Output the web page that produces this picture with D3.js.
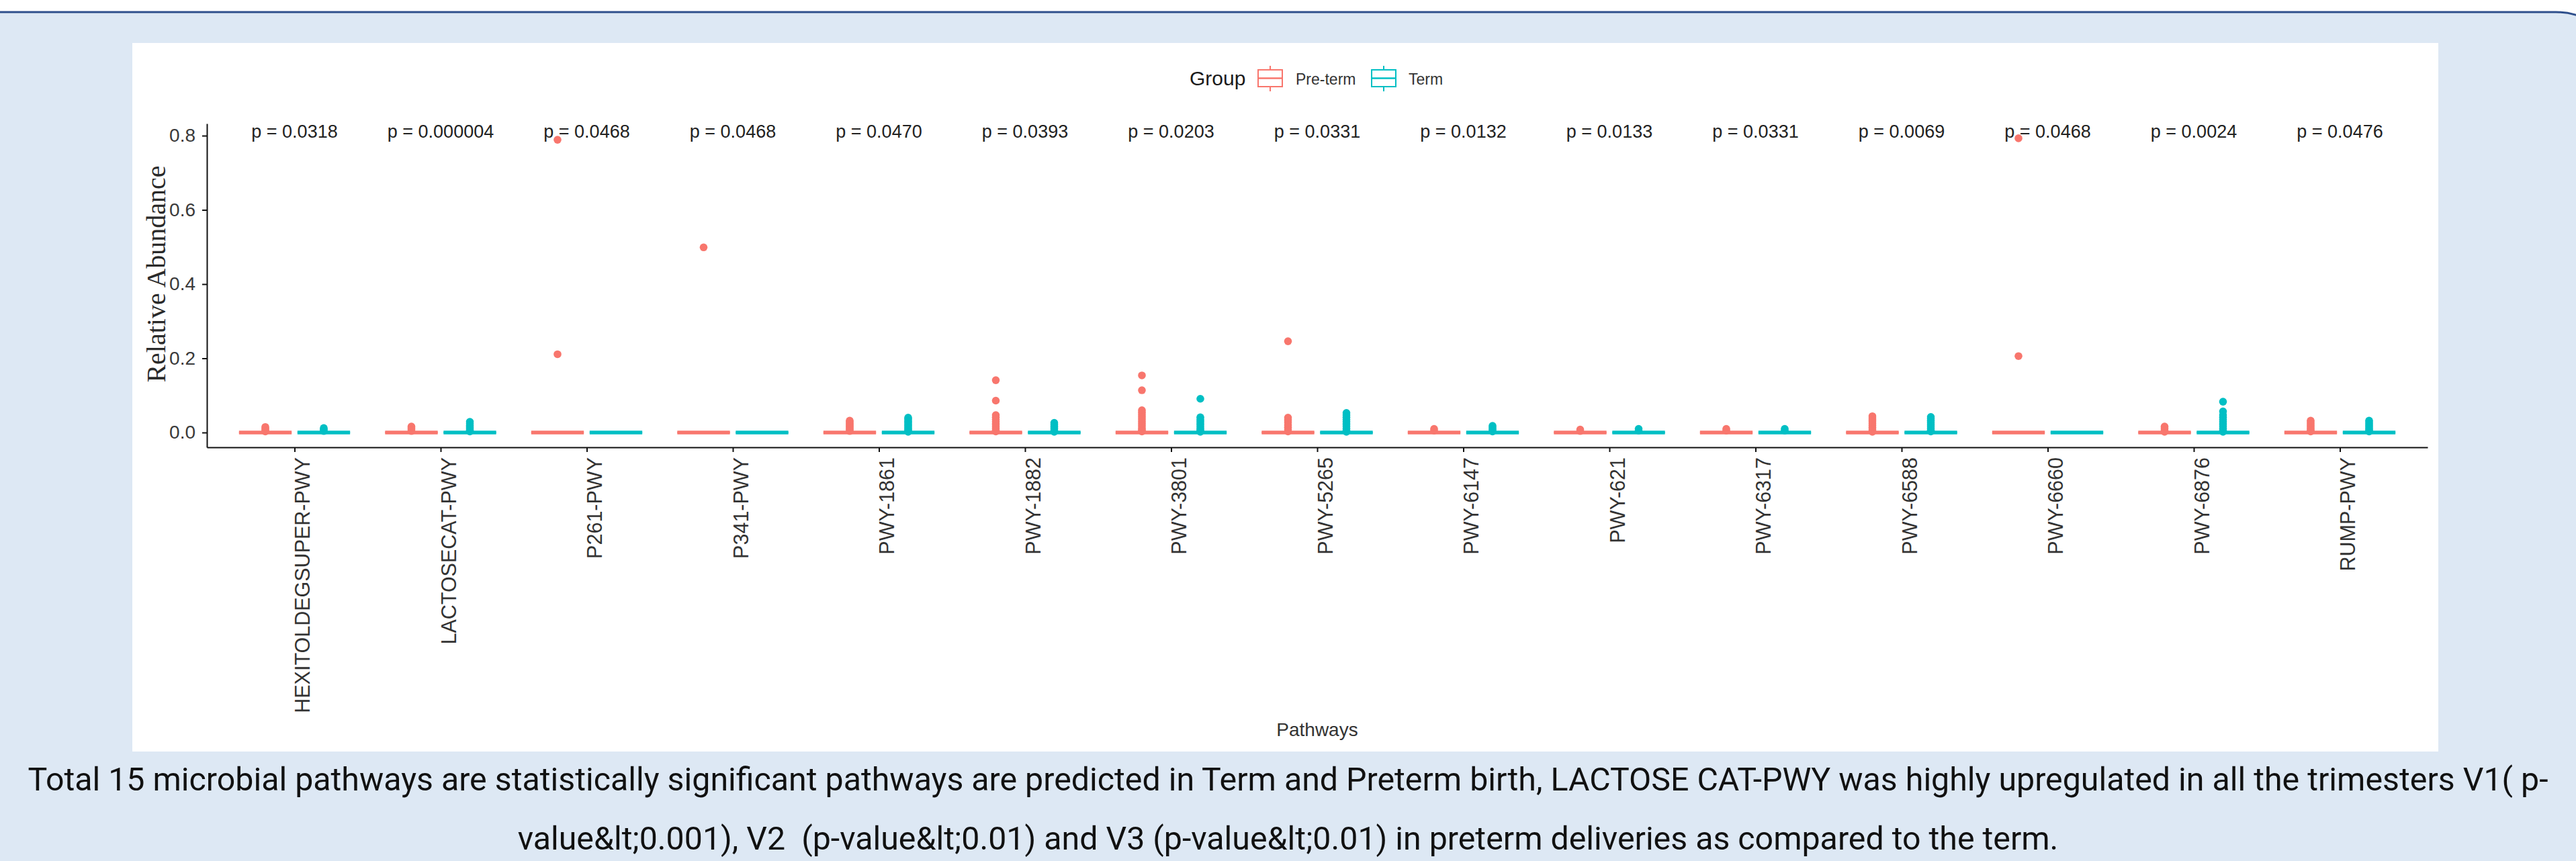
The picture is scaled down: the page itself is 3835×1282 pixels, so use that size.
<!DOCTYPE html>
<html>
<head>
<meta charset="utf-8">
<script src="https://cdn.jsdelivr.net/npm/d3@7"></script>
<style>
  html, body { margin: 0; padding: 0; background: #ffffff; }
  svg { display: block; font-family: "Liberation Sans", Arial, Helvetica, sans-serif; }
</style>
</head>
<body>
<svg id="fig" width="3835" height="1282"></svg>
<script>
// Pathways tested (x categories)
const pathways = [
  "HEXITOLDEGSUPER-PWY", "LACTOSECAT-PWY", "P261-PWY", "P341-PWY", "PWY-1861",
  "PWY-1882", "PWY-3801", "PWY-5265", "PWY-6147", "PWY-621",
  "PWY-6317", "PWY-6588", "PWY-6660", "PWY-6876", "RUMP-PWY"
];

// Wilcoxon p-values shown above each pathway
const pValues = [
  "0.0318", "0.000004", "0.0468", "0.0468", "0.0470",
  "0.0393", "0.0203", "0.0331", "0.0132", "0.0133",
  "0.0331", "0.0069", "0.0468", "0.0024", "0.0476"
];

const groups = ["Pre-term", "Term"];
const groupColors = ["#F8766D", "#00BFC4"];

// Box statistics [q1, median, q3] per pathway (abundances collapse to zero)
const preTermBox = [
  [0, 0, 0], [0, 0, 0], [0, 0, 0], [0, 0, 0], [0, 0, 0],
  [0, 0, 0], [0, 0, 0], [0, 0, 0], [0, 0, 0], [0, 0, 0],
  [0, 0, 0], [0, 0, 0], [0, 0, 0], [0, 0, 0], [0, 0, 0]
];
const termBox = [
  [0, 0, 0], [0, 0, 0], [0, 0, 0], [0, 0, 0], [0, 0, 0],
  [0, 0, 0], [0, 0, 0], [0, 0, 0], [0, 0, 0], [0, 0, 0],
  [0, 0, 0], [0, 0, 0], [0, 0, 0], [0, 0, 0], [0, 0, 0]
];

// Outlying samples per pathway
const preTermOutliers = [
  [0.015, 0.011, 0.007, 0.003],
  [0.016, 0.012, 0.008, 0.004],
  [0.789, 0.211],
  [0.499],
  [0.032, 0.028, 0.024, 0.020, 0.016, 0.012, 0.008, 0.004],
  [0.141, 0.086, 0.047, 0.041, 0.035, 0.029, 0.023, 0.017, 0.012, 0.007, 0.003],
  [0.154, 0.114, 0.060, 0.054, 0.048, 0.042, 0.036, 0.030, 0.024, 0.018, 0.012, 0.007, 0.003],
  [0.246, 0.040, 0.034, 0.028, 0.020, 0.014, 0.008, 0.003],
  [0.010, 0.005],
  [0.008, 0.004],
  [0.010, 0.005],
  [0.044, 0.039, 0.034, 0.029, 0.024, 0.019, 0.014, 0.009, 0.005, 0.002],
  [0.793, 0.206],
  [0.016, 0.011, 0.006, 0.002],
  [0.032, 0.027, 0.022, 0.017, 0.012, 0.007, 0.003]
];
const termOutliers = [
  [0.012, 0.008, 0.004],
  [0.029, 0.024, 0.019, 0.015, 0.011, 0.007, 0.003],
  [],
  [],
  [0.040, 0.036, 0.031, 0.027, 0.022, 0.018, 0.013, 0.009, 0.005, 0.002],
  [0.026, 0.021, 0.016, 0.011, 0.006, 0.002],
  [0.091, 0.041, 0.035, 0.029, 0.023, 0.017, 0.011, 0.006, 0.002],
  [0.053, 0.047, 0.041, 0.035, 0.029, 0.023, 0.017, 0.011, 0.006, 0.002],
  [0.018, 0.013, 0.008, 0.003],
  [0.010, 0.005],
  [0.010, 0.005],
  [0.042, 0.037, 0.032, 0.027, 0.022, 0.017, 0.012, 0.007, 0.003],
  [],
  [0.083, 0.057, 0.047, 0.041, 0.035, 0.029, 0.023, 0.017, 0.011, 0.006, 0.002],
  [0.032, 0.027, 0.022, 0.017, 0.012, 0.007, 0.003]
];

const yTicks = [0, 0.2, 0.4, 0.6, 0.8];

const captionLines = [
  "Total 15 microbial pathways are statistically significant pathways are predicted in Term and Preterm birth, LACTOSE CAT-PWY was highly upregulated in all the trimesters V1( p-",
  "value&lt;0.001), V2  (p-value&lt;0.01) and V3 (p-value&lt;0.01) in preterm deliveries as compared to the term."
];

// ---------------------------------------------------------------------------
const svg = d3.select("#fig");
const SANS = "'Liberation Sans', Arial, Helvetica, sans-serif";

// page frame: light blue card with a dark top border and rounded corner
svg.append("rect")
  .attr("x", -120).attr("y", 18).attr("width", 4032).attr("height", 2000)
  .attr("rx", 107).attr("ry", 107)
  .attr("fill", "#dde8f4").attr("stroke", "#2e4f8c").attr("stroke-width", 3);

// white figure panel
svg.append("rect")
  .attr("x", 197).attr("y", 64).attr("width", 3433).attr("height", 1055)
  .attr("fill", "#ffffff");

const x = d3.scalePoint().domain(pathways).range([308, 3614]).padding(0.6);
const y = d3.scaleLinear().domain([-0.0398, 0.8326]).range([666, 184]);
const step = x.step();
const boxW = step * 0.36;
const dodge = step * 0.2;

const plot = svg.append("g");

// y axis
const yAxis = plot.append("g")
  .attr("transform", "translate(308,0)")
  .call(d3.axisLeft(y).tickValues(yTicks).tickFormat(d3.format(".1f"))
        .tickSize(7).tickSizeOuter(0).tickPadding(10));
yAxis.select(".domain").attr("stroke", "#111").attr("stroke-width", 2);
yAxis.selectAll(".tick line").attr("stroke", "#111").attr("stroke-width", 2);
yAxis.selectAll(".tick text")
  .attr("fill", "#3a3a3a")
  .style("font-size", "28px").style("font-family", SANS);

// x axis
const xAxis = plot.append("g")
  .attr("transform", "translate(0,666)")
  .call(d3.axisBottom(x).tickSize(7).tickSizeOuter(0));
xAxis.select(".domain").attr("stroke", "#111").attr("stroke-width", 2);
xAxis.selectAll(".tick line").attr("stroke", "#111").attr("stroke-width", 2);
xAxis.selectAll(".tick text")
  .attr("transform", "rotate(-90)")
  .attr("x", -15).attr("y", 22).attr("dy", 0)
  .attr("text-anchor", "end")
  .attr("fill", "#333")
  .style("font-size", "30.5px").style("font-family", SANS);

// axis titles
svg.append("text")
  .attr("transform", "translate(246,408) rotate(-90)")
  .attr("text-anchor", "middle")
  .attr("fill", "#2a2a2a")
  .style("font-family", "'Liberation Serif', 'Times New Roman', serif")
  .style("font-size", "40px")
  .text("Relative Abundance");

svg.append("text")
  .attr("x", (308 + 3614) / 2).attr("y", 1096)
  .attr("text-anchor", "middle")
  .attr("fill", "#333")
  .style("font-size", "28px").style("font-family", SANS)
  .text("Pathways");

// boxplots
const series = [
  { box: preTermBox, out: preTermOutliers, off: -dodge, color: groupColors[0] },
  { box: termBox, out: termOutliers, off: dodge, color: groupColors[1] }
];

series.forEach(s => {
  const g = plot.append("g");
  pathways.forEach((p, i) => {
    const cx = x(p) + s.off;
    const [q1, med, q3] = s.box[i];
    const x0 = cx - boxW / 2, x1 = cx + boxW / 2;
    // outliers first, box drawn on top
    g.selectAll(null).data(s.out[i]).enter().append("circle")
      .attr("cx", cx).attr("cy", d => y(d)).attr("r", 5.8)
      .attr("fill", s.color);
    g.append("path")
      .attr("d", `M${x0},${y(q3)}H${x1}V${y(q1)}H${x0}Z`)
      .attr("fill", "#fff").attr("stroke", s.color).attr("stroke-width", 2.5);
    g.append("line")
      .attr("x1", x0).attr("x2", x1).attr("y1", y(med)).attr("y2", y(med))
      .attr("stroke", s.color).attr("stroke-width", 5.5);
  });
});

// p-value annotations
plot.append("g").selectAll("text").data(pathways).enter().append("text")
  .attr("x", d => x(d)).attr("y", 205)
  .attr("text-anchor", "middle")
  .attr("fill", "#222")
  .style("font-size", "27px").style("font-family", SANS)
  .text((d, i) => "p = " + pValues[i]);

// legend
const legend = svg.append("g");
legend.append("text")
  .attr("x", 1771).attr("y", 126.5)
  .attr("fill", "#1a1a1a")
  .style("font-size", "30px").style("font-family", SANS)
  .text("Group");

const keyX = [1873, 2042];
const labelX = [1929, 2097];
groups.forEach((gname, i) => {
  const k = legend.append("g").attr("transform", `translate(${keyX[i]},0)`);
  const c = groupColors[i];
  k.append("line").attr("x1", 18).attr("x2", 18).attr("y1", 98).attr("y2", 104)
    .attr("stroke", c).attr("stroke-width", 2);
  k.append("line").attr("x1", 18).attr("x2", 18).attr("y1", 129).attr("y2", 136)
    .attr("stroke", c).attr("stroke-width", 2);
  k.append("rect").attr("x", 0).attr("y", 104).attr("width", 36).attr("height", 25)
    .attr("fill", "#fff").attr("stroke", c).attr("stroke-width", 2);
  k.append("line").attr("x1", 0).attr("x2", 36).attr("y1", 116.5).attr("y2", 116.5)
    .attr("stroke", c).attr("stroke-width", 2.5);
  legend.append("text")
    .attr("x", labelX[i]).attr("y", 125.5)
    .attr("fill", "#333")
    .style("font-size", "23px").style("font-family", SANS)
    .text(gname);
});

// caption below the figure
svg.append("g").selectAll("text").data(captionLines).enter().append("text")
  .attr("x", 1917.5).attr("y", (d, i) => 1177 + i * 88)
  .attr("text-anchor", "middle")
  .attr("fill", "#111")
  .style("font-family", "Roboto, 'Noto Sans', sans-serif")
  .style("font-size", "48.3px")
  .style("white-space", "pre")
  .text(d => d);
</script>
</body>
</html>
